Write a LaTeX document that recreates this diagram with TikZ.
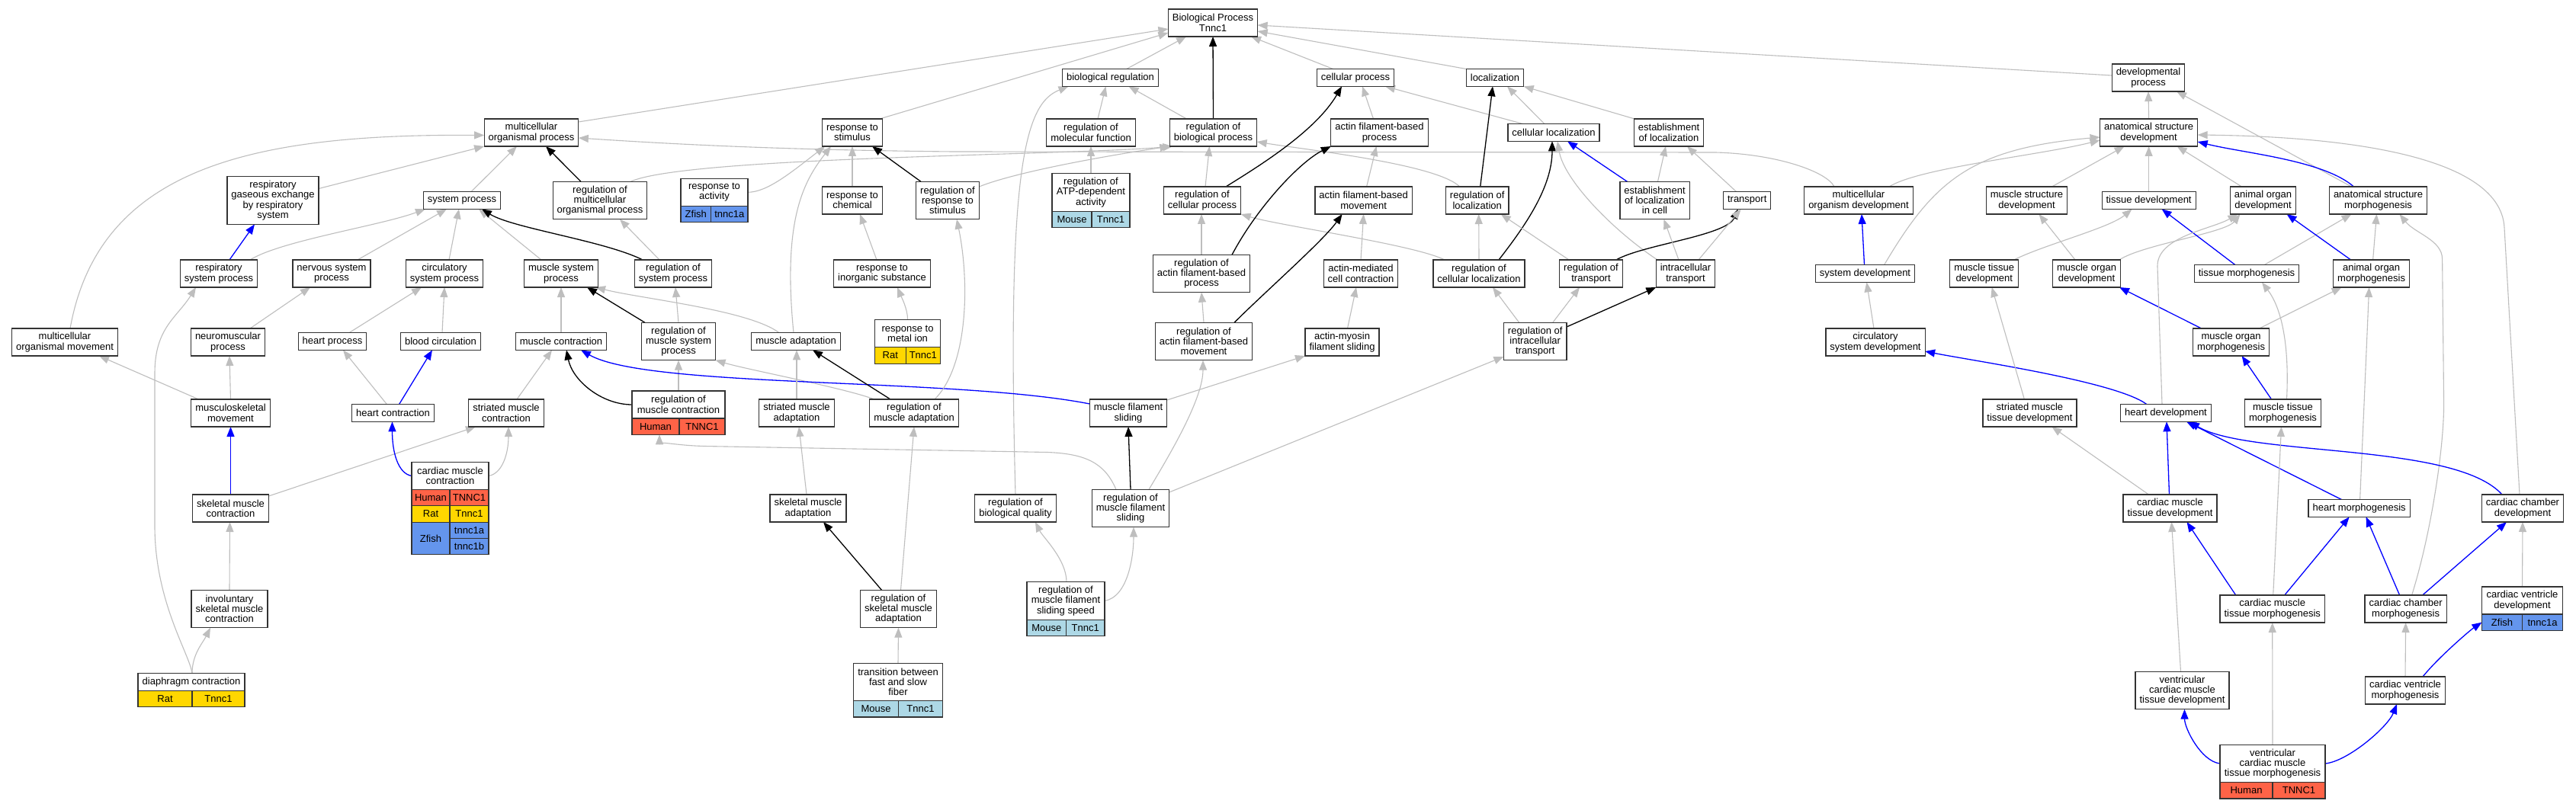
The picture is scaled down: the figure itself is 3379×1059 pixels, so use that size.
\documentclass[tikz,border=0pt]{standalone}
\usepackage{fontspec}
\setmainfont{Liberation Sans}
\usetikzlibrary{arrows.meta}
\pgfdeclarelayer{background}
\pgfsetlayers{background,main}
\definecolor{isagray}{RGB}{190,190,190}
\definecolor{partblue}{RGB}{0,0,255}
\definecolor{human}{RGB}{255,99,71}
\definecolor{rat}{RGB}{255,215,0}
\definecolor{zfish}{RGB}{100,149,237}
\definecolor{mouse}{RGB}{173,216,230}
\begin{document}
\begin{tikzpicture}[x=1pt, y=-1pt,
				term/.style={draw=black!80, fill=white, line width=1.2pt, outer sep=0pt, align=center, inner xsep=5.5pt, inner ysep=2pt, minimum height=22.7pt, font=\fontsize{13}{13.3}\selectfont},
				twoline/.style={minimum height=36pt},
				threeline/.style={minimum height=49.3pt},
				fourline/.style={minimum height=62.6pt},
				gene/.style={draw=black!80, line width=1.2pt, outer sep=0pt, inner sep=0pt, minimum height=21.3pt, font=\fontsize{13}{13.3}\selectfont},
				isa/.style={draw=isagray, line width=1.1pt, -{Triangle[length=13pt,width=10pt]}},
				reg/.style={draw=black, line width=1.3pt, -{Triangle[length=13pt,width=10pt]}},
				partof/.style={draw=partblue, line width=1.3pt, -{Triangle[length=13pt,width=10pt]}},
				]
				\useasboundingbox (0,0) rectangle (3379,1059);
				%Nodes
				\node[term,twoline]   (root)  at (1591,30)      {Biological Process\\Tnnc1};
				\node[term]           (br)    at (1456.5,102)   {biological regulation};
				\node[term]           (cp)    at (1778,102)     {cellular process};
				\node[term]           (loc)   at (1961,102)     {localization};
				\node[term,twoline]   (dp)    at (2818,102)     {developmental\\process};

				\node[term,twoline]   (mop)   at (697,174)      {multicellular\\organismal process};
				\node[term,twoline]   (rts)   at (1118,174)     {response to\\stimulus};
				\node[term,twoline]   (rmf)   at (1431,174)     {regulation of\\molecular function};
				\node[term,twoline]   (rbp)   at (1591.5,174)   {regulation of\\biological process};
				\node[term,twoline]   (afbp)  at (1809.5,174)   {actin filament-based\\process};
				\node[term]           (cl)    at (2038,174)     {cellular localization};
				\node[term,twoline]   (eol)   at (2189,174)     {establishment\\of localization};
				\node[term,twoline]   (asd)   at (2818.6,174)   {anatomical structure\\development};

				\node[term,fourline]  (rge)   at (358,263)      {respiratory\\gaseous exchange\\by respiratory\\system};
				\node[term]           (sp)    at (606,263)      {system process};
				\node[term,threeline] (rmop)  at (787,263)      {regulation of\\multicellular\\organismal process};
				\node[term,twoline,minimum width=88pt] (rta) at (937,252.3) {response to\\activity};
				\node[term,twoline]   (rtc)   at (1118,263)     {response to\\chemical};
				\node[term,threeline] (rrts)  at (1243,263)     {regulation of\\response to\\stimulus};
				\node[term,threeline,minimum width=102pt] (ratp) at (1431,252.5) {regulation of\\ATP-dependent\\activity};
				\node[term,twoline]   (rcp)   at (1577,263)     {regulation of\\cellular process};
				\node[term,twoline]   (afbm)  at (1788.6,263)   {actin filament-based\\movement};
				\node[term,twoline]   (rloc)  at (1937.7,263)   {regulation of\\localization};
				\node[term,threeline] (eolc)  at (2170.5,263)   {establishment\\of localization\\in cell};
				\node[term]           (tr)    at (2291.7,263)   {transport};
				\node[term,twoline]   (mod)   at (2438,263)     {multicellular\\organism development};
				\node[term,twoline]   (msd)   at (2658.5,263)   {muscle structure\\development};
				\node[term]           (td)    at (2818.6,263)   {tissue development};
				\node[term,twoline]   (aod)   at (2968.5,263)   {animal organ\\development};
				\node[term,twoline]   (asm)   at (3119.5,263)   {anatomical structure\\morphogenesis};

				\node[term,twoline]   (rsp)   at (287,359)      {respiratory\\system process};
				\node[term,twoline]   (nsp)   at (435,359)      {nervous system\\process};
				\node[term,twoline]   (csp)   at (583,359)      {circulatory\\system process};
				\node[term,twoline]   (msp)   at (736,359)      {muscle system\\process};
				\node[term,twoline]   (rsysp) at (883,359)      {regulation of\\system process};
				\node[term,twoline]   (rtis)  at (1157,359)     {response to\\inorganic substance};
				\node[term,threeline] (rafbp) at (1576,359)     {regulation of\\actin filament-based\\process};
				\node[term,twoline]   (amcc)  at (1785,359)     {actin-mediated\\cell contraction};
				\node[term,twoline]   (rcl)   at (1940,359)     {regulation of\\cellular localization};
				\node[term,twoline]   (rtr)   at (2087,359)     {regulation of\\transport};
				\node[term,twoline]   (it)    at (2211,359)     {intracellular\\transport};
				\node[term]           (sd)    at (2446.5,359)   {system development};
				\node[term,twoline]   (mtd)   at (2602.7,359)   {muscle tissue\\development};
				\node[term,twoline]   (mord)  at (2737,359)     {muscle organ\\development};
				\node[term]           (tm)    at (2947,359)     {tissue morphogenesis};
				\node[term,twoline]   (aom)   at (3110.6,359)   {animal organ\\morphogenesis};

				\node[term,twoline]   (mom)   at (85,449)       {multicellular\\organismal movement};
				\node[term,twoline]   (nmp)   at (299,449)      {neuromuscular\\process};
				\node[term]           (hp)    at (436,448)      {heart process};
				\node[term]           (bc)    at (578,448)      {blood circulation};
				\node[term]           (mc)    at (736,448)      {muscle contraction};
				\node[term,threeline] (rmsp)  at (890,448)      {regulation of\\muscle system\\process};
				\node[term]           (ma)    at (1044,448)     {muscle adaptation};
				\node[term,twoline,minimum width=86pt] (rtmi) at (1190.6,437.8) {response to\\metal ion};
				\node[term,threeline] (rafbm) at (1579,448)     {regulation of\\actin filament-based\\movement};
				\node[term,twoline]   (amfs)  at (1760.5,449)   {actin-myosin\\filament sliding};
				\node[term,threeline] (rit)   at (2013.7,448)   {regulation of\\intracellular\\transport};
				\node[term,twoline]   (csd)   at (2460,449)     {circulatory\\system development};
				\node[term,twoline]   (morm)  at (2926.6,449)   {muscle organ\\morphogenesis};

				\node[term,twoline,minimum width=122pt] (rmc) at (890,531) {regulation of\\muscle contraction};
				\node[term,twoline]   (msm)   at (302.5,542)    {musculoskeletal\\movement};
				\node[term]           (hc)    at (515.5,542)    {heart contraction};
				\node[term,twoline]   (smc)   at (664,542)      {striated muscle\\contraction};
				\node[term,twoline]   (sma)   at (1045,542)     {striated muscle\\adaptation};
				\node[term,twoline]   (rma)   at (1199,542)     {regulation of\\muscle adaptation};
				\node[term,twoline]   (mfs)   at (1480,542)     {muscle filament\\sliding};
				\node[term,twoline]   (smtd)  at (2662.4,542)   {striated muscle\\tissue development};
				\node[term]           (hd)    at (2841,542)     {heart development};
				\node[term,twoline]   (mtm)   at (2994.5,542)   {muscle tissue\\morphogenesis};

				\node[term,twoline,minimum width=101pt] (cmc) at (590.5,624.5) {cardiac muscle\\contraction};
				\node[term,twoline]   (skmc)  at (302.5,667)    {skeletal muscle\\contraction};
				\node[term,twoline]   (skma)  at (1060,667)     {skeletal muscle\\adaptation};
				\node[term,twoline]   (rbq)   at (1332,667)     {regulation of\\biological quality};
				\node[term,threeline] (rmfs)  at (1483,667)     {regulation of\\muscle filament\\sliding};
				\node[term,twoline]   (cmtd)  at (2846.5,667)   {cardiac muscle\\tissue development};
				\node[term]           (hm)    at (3094.6,667)   {heart morphogenesis};
				\node[term,twoline]   (ccd)   at (3309,667)     {cardiac chamber\\development};

				\node[term,threeline] (iskmc) at (301,799)      {involuntary\\skeletal muscle\\contraction};
				\node[term,threeline] (rskma) at (1178.5,799)   {regulation of\\skeletal muscle\\adaptation};
				\node[term,threeline,minimum width=102pt] (rmfss) at (1398,788.5) {regulation of\\muscle filament\\sliding speed};
				\node[term,twoline]   (cmtm)  at (2980.7,799)   {cardiac muscle\\tissue morphogenesis};
				\node[term,twoline]   (ccm)   at (3155.6,799)   {cardiac chamber\\morphogenesis};
				\node[term,twoline,minimum width=106pt] (cvd) at (3308.5,788) {cardiac ventricle\\development};

				\node[term,minimum width=140pt] (dc) at (251,895) {diaphragm contraction};
				\node[term,threeline,minimum width=117pt] (tbfs) at (1178,895) {transition between\\fast and slow\\fiber};
				\node[term,threeline] (vcmtd) at (2862.5,906)   {ventricular\\cardiac muscle\\tissue development};
				\node[term,twoline]   (cvm)   at (3155,906)     {cardiac ventricle\\morphogenesis};
				\node[term,threeline,minimum width=138pt] (vcmtm) at (2981,1002) {ventricular\\cardiac muscle\\tissue morphogenesis};

				%Gene rows
				\node[gene, fill=zfish, minimum width=39.6pt, anchor=north west] (rtaS)  at (rta.south west)  {Zfish};
				\node[gene, fill=zfish, minimum width=48.4pt, anchor=north east] (rtaG)  at (rta.south east)  {tnnc1a};
				\node[gene, fill=mouse, minimum width=52pt, anchor=north west]   (ratpS) at (ratp.south west) {Mouse};
				\node[gene, fill=mouse, minimum width=50pt, anchor=north east]   (ratpG) at (ratp.south east) {Tnnc1};
				\node[gene, fill=rat, minimum width=40.5pt, anchor=north west]   (rtmiS) at (rtmi.south west) {Rat};
				\node[gene, fill=rat, minimum width=45.5pt, anchor=north east]   (rtmiG) at (rtmi.south east) {Tnnc1};
				\node[gene, fill=human, minimum width=62pt, anchor=north west]   (rmcH)  at (rmc.south west)  {Human};
				\node[gene, fill=human, minimum width=60pt, anchor=north east]   (rmcG)  at (rmc.south east)  {TNNC1};
				\node[gene, fill=human, minimum width=50pt, anchor=north west]   (cmcH)  at (cmc.south west)  {Human};
				\node[gene, fill=human, minimum width=51pt, anchor=north east]   (cmcHg) at (cmc.south east)  {TNNC1};
				\node[gene, fill=rat, minimum width=50pt, anchor=north west]     (cmcR)  at (cmcH.south west) {Rat};
				\node[gene, fill=rat, minimum width=51pt, anchor=north east]     (cmcRg) at (cmcHg.south east) {Tnnc1};
				\node[gene, fill=zfish, minimum width=50pt, minimum height=42.6pt, anchor=north west] (cmcZ) at (cmcR.south west) {Zfish};
				\node[gene, fill=zfish, minimum width=51pt, anchor=north east]   (cmcZa) at (cmcRg.south east) {tnnc1a};
				\node[gene, fill=zfish, minimum width=51pt, anchor=north east]   (cmcZb) at (cmcZa.south east) {tnnc1b};
				\node[gene, fill=mouse, minimum width=51.5pt, anchor=north west] (rmfssS) at (rmfss.south west) {Mouse};
				\node[gene, fill=mouse, minimum width=50.5pt, anchor=north east] (rmfssG) at (rmfss.south east) {Tnnc1};
				\node[gene, fill=zfish, minimum width=53pt, anchor=north west]   (cvdS)  at (cvd.south west)  {Zfish};
				\node[gene, fill=zfish, minimum width=53pt, anchor=north east]   (cvdG)  at (cvd.south east)  {tnnc1a};
				\node[gene, fill=rat, minimum width=71pt, anchor=north west]     (dcS)   at (dc.south west)   {Rat};
				\node[gene, fill=rat, minimum width=69pt, anchor=north east]     (dcG)   at (dc.south east)   {Tnnc1};
				\node[gene, fill=mouse, minimum width=59pt, anchor=north west]   (tbfsS) at (tbfs.south west) {Mouse};
				\node[gene, fill=mouse, minimum width=58pt, anchor=north east]   (tbfsG) at (tbfs.south east) {Tnnc1};
				\node[gene, fill=human, minimum width=69pt, anchor=north west]   (vcmtmS) at (vcmtm.south west) {Human};
				\node[gene, fill=human, minimum width=69pt, anchor=north east]   (vcmtmG) at (vcmtm.south east) {TNNC1};

				\begin{pgfonlayer}{background}
				\fill[white] (0,0) rectangle (3379,1059);
				%Lines
				\draw[isa] ([yshift=14pt]mop.east) -- ([yshift=-8pt]root.west);
				\draw[isa] ([xshift=36pt]rts.north) -- ([yshift=-13pt]root.west);
				\draw[isa] ([xshift=21pt]br.north) -- ([xshift=-35pt]root.south);
				\draw[reg] (rbp.north) -- (root.south);
				\draw[isa] ([xshift=-29pt]cp.north) -- ([xshift=50pt]root.south);
				\draw[isa] ([xshift=-37pt]loc.north) -- ([yshift=-11pt]root.east);
				\draw[isa] ([yshift=3pt]dp.west) -- ([yshift=-3pt]root.east);

				\draw[isa] ([xshift=7pt]mom.north) .. controls +(38,-211) and +(-305,-2) .. ([yshift=-3.5pt]mop.west);
				\draw[isa] ([yshift=15.5pt]rge.east) -- (mop.south west);
				\draw[isa] ([xshift=12pt]sp.north) -- ([xshift=-19pt]mop.south);
				\draw[reg] ([xshift=-25pt]rmop.north) -- ([xshift=19pt]mop.south);
				\draw[isa] ([xshift=-32pt]mod.north) .. controls +(-10,-20) and +(80,2) .. (2250,200) -- (1250,199) .. controls +(-200,-2) and +(150,10) .. ([yshift=-7pt]mop.east);

				\draw[isa] ([xshift=40pt]rmop.north) .. controls +(73,-33) and +(-135,12) .. ([xshift=4pt]rbp.south west);
				\draw[isa] ([yshift=18pt]rrts.east) .. controls +(50,-20) and +(-80,12) .. (rbp.south west);
				\draw[isa] ([xshift=4pt]rcp.north) -- ([xshift=-5pt]rbp.south);
				\draw[isa] ([xshift=-23pt]rloc.north) .. controls +(-30,-30) and +(60,10) .. ([yshift=-12pt]rbp.east);

				\draw[isa] ([xshift=9pt]rmf.north) -- ([xshift=-6pt]br.south);
				\draw[isa] ([xshift=-35pt]rbp.north) -- ([xshift=24pt]br.south);
				\draw[isa] (rbq.north) .. controls +(-12,-440) and +(-55,22) .. ([xshift=-55pt]br.south);
				\draw[isa] (ratp.north) -- (rmf.south);

				\draw[isa] (rta.east) .. controls +(25,0) and +(-45,35) .. ([xshift=-36pt]rts.south);
				\draw[isa] (rtc.north) -- (rts.south);
				\draw[reg] ([xshift=-35pt]rrts.north) -- ([xshift=26pt]rts.south);
				\draw[isa] ([xshift=-3pt]ma.north) .. controls +(-15,-150) and +(-35,45) .. ([xshift=-28pt]rts.south);
				\draw[isa] ([xshift=-7pt]rtis.north) -- ([xshift=10pt]rtc.south);
				\draw[isa] (rtmi.north) .. controls +(0,-15) and +(5,12) .. ([xshift=20pt]rtis.south);

				\draw[isa] (rafbp.north) -- ([xshift=-1pt]rcp.south);
				\draw[reg] ([xshift=31pt]rcp.north) .. controls +(40,-25) and +(-35,60) .. ([xshift=-18pt]cp.south);
				\draw[isa] ([xshift=-45pt]rcl.north) .. controls +(-40,-20) and +(50,15) .. (rcp.south east);
				\draw[isa] ([xshift=-8pt]afbp.north) -- ([xshift=9pt]cp.south);
				\draw[isa] ([xshift=-40pt]cl.north) -- ([xshift=39pt]cp.south);
				\draw[isa] ([xshift=-12pt]cl.north) -- ([xshift=16pt]loc.south);
				\draw[isa] ([xshift=-45pt]eol.north) -- (loc.south east);
				\draw[reg] ([xshift=4pt]rloc.north) -- ([xshift=-3pt]loc.south);

				\draw[reg] ([xshift=40pt]rafbp.north) .. controls +(34,-64) and +(-40,20) .. (afbp.south west);
				\draw[isa] ([xshift=4pt]afbm.north) -- ([xshift=-4pt]afbp.south);
				\draw[isa] (amcc.north) -- (afbm.south);
				\draw[reg] ([xshift=40pt]rafbm.north) .. controls +(40,-40) and +(-25,35) .. ([xshift=-28pt]afbm.south);
				\draw[isa] (rafbm.north) -- (rafbp.south);
				\draw[isa] ([xshift=7pt]amfs.north) -- ([xshift=-6pt]amcc.south);

				\draw[partof] ([xshift=-36pt]eolc.north) -- ([xshift=18pt]cl.south);
				\draw[isa] ([xshift=4pt]eolc.north) -- ([xshift=-4pt]eol.south);
				\draw[isa] ([xshift=-14pt]tr.north) -- ([xshift=24pt]eol.south);
				\draw[reg] ([xshift=26pt]rcl.north) .. controls +(35,-45) and +(0,60) .. ([xshift=-2pt]cl.south);
				\draw[isa] ([xshift=-37pt]it.north) .. controls +(-60,-40) and +(8,50) .. ([xshift=5pt]cl.south);
				\draw[isa] (rcl.north) -- ([xshift=2pt]rloc.south);
				\draw[isa] ([xshift=-29pt]rtr.north) -- ([xshift=31pt]rloc.south);
				\draw[reg] ([xshift=33pt]rtr.north) .. controls +(35,-20) and +(-15,35) .. ([xshift=-12pt]tr.south);
				\draw[isa] ([xshift=17pt]it.north) -- ([xshift=-8pt]tr.south);
				\draw[isa] ([xshift=-9pt]it.north) -- ([xshift=12pt]eolc.south);
				\draw[isa] ([xshift=-21pt]rit.north) -- ([xshift=18pt]rcl.south);
				\draw[isa] ([xshift=23pt]rit.north) -- ([xshift=-15pt]rtr.south);
				\draw[reg] ([yshift=19pt]rit.east) -- (it.south west);

				\draw[partof] ([xshift=14pt]rsp.north) -- ([xshift=-24pt]rge.south);
				\draw[isa] ([xshift=41pt]rsp.north) .. controls +(40,-25) and +(-60,22) .. ([xshift=-48pt]sp.south);
				\draw[isa] ([xshift=34pt]nsp.north) -- ([xshift=-20pt]sp.south);
				\draw[isa] ([xshift=6pt]csp.north) -- ([xshift=-4pt]sp.south);
				\draw[isa] ([xshift=-26pt]msp.north) -- ([xshift=22pt]sp.south);
				\draw[reg] ([xshift=-40pt]rsysp.north) .. controls +(-50,-25) and +(40,25) .. ([xshift=26pt]sp.south);
				\draw[isa] ([xshift=-18pt]rsysp.north) -- ([xshift=26pt]rmop.south);

				\draw[isa] (mc.north) -- (msp.south);
				\draw[reg] ([xshift=-44pt]rmsp.north) -- ([xshift=34pt]msp.south);
				\draw[isa] ([xshift=-22pt]ma.north) .. controls +(-40,-30) and +(60,15) .. ([xshift=45pt]msp.south);
				\draw[isa] (rmsp.north) -- ([xshift=3pt]rsysp.south);
				\draw[isa] (rmc.north) -- (rmsp.south);
				\draw[isa] ([xshift=-52pt]rma.north) .. controls +(-40,-15) and +(40,12) .. (rmsp.south east);

				\draw[isa] ([xshift=14pt]smc.north) -- ([xshift=-12pt]mc.south);
				\draw[reg] (rmc.west) .. controls +(-40,0) and +(8,40) .. ([xshift=7pt]mc.south);
				\draw[partof] ([yshift=12pt]mfs.west) .. controls +(-178.5,-35) and +(88,50.6) .. ([xshift=26pt]mc.south);

				\draw[isa] ([xshift=22pt]hp.north) -- ([xshift=-30pt]csp.south);
				\draw[isa] ([xshift=2pt]bc.north) -- (csp.south);
				\draw[isa] ([xshift=29pt]nmp.north) -- ([xshift=-28pt]nsp.south);
				\draw[isa] ([xshift=-8pt]hc.north) -- ([xshift=14pt]hp.south);
				\draw[partof] ([xshift=8pt]hc.north) -- ([xshift=-11pt]bc.south);
				\draw[isa] ([xshift=-42pt]msm.north) -- ([xshift=45pt]mom.south);
				\draw[isa] (msm.north) -- ([xshift=2pt]nmp.south);
				\draw[partof] (skmc.north) -- (msm.south);
				\draw[isa] ([yshift=16pt]skmc.east) -- ([xshift=-40pt]smc.south);
				\draw[partof] (cmc.west) .. controls +(-18,-3) and +(0,40) .. ([xshift=-1pt]hc.south);
				\draw[isa] (cmc.east) .. controls +(18,-3) and +(0,35) .. ([xshift=3pt]smc.south);
				\draw[isa] (iskmc.north) -- ([xshift=-1pt]skmc.south);
				\draw[isa] ([xshift=1pt]dc.north) .. controls +(0,-25) and +(-10,20) .. ([xshift=-25pt]iskmc.south);
				\draw[isa] ([xshift=1pt]dc.north) .. controls +(-3,-25) and +(0,100) .. (203,690) -- (203,490) .. controls +(0,-60) and +(-25,40) .. ([xshift=-30pt]rsp.south);

				\draw[reg] (rmfs.north) -- (mfs.south);
				\draw[isa] ([xshift=-19pt]rmfs.north) .. controls +(-15,-35) and +(50,2) .. (1374,593.5) -- (924,585.5) .. controls +(-40,-1) and +(0,8) .. ([xshift=5pt]rmcH.south);
				\draw[isa] ([xshift=24pt]rmfs.north) .. controls +(30,-50) and +(0,50) .. ([xshift=-1pt]rafbm.south);
				\draw[isa] ([yshift=21pt]rmfs.east) -- ([yshift=-20pt]rit.west);
				\draw[isa] ([yshift=17pt]mfs.east) -- (amfs.south west);
				\draw[isa] ([xshift=1pt]rmfss.north) .. controls +(0,-30) and +(10,20) .. ([xshift=26pt]rbq.south);
				\draw[isa] (rmfss.east) .. controls +(30,-5) and +(0,40) .. ([xshift=4pt]rmfs.south);
				\draw[reg] ([xshift=-22pt]rskma.north) -- ([xshift=20pt]skma.south);
				\draw[isa] ([xshift=3pt]rskma.north) -- (rma.south);
				\draw[isa] (tbfs.north) -- (rskma.south);
				\draw[isa] ([xshift=-2pt]skma.north) -- ([xshift=3pt]sma.south);
				\draw[isa] (sma.north) -- ([xshift=1pt]ma.south);
				\draw[reg] ([xshift=-31pt]rma.north) -- ([xshift=22pt]ma.south);
				\draw[isa] ([xshift=27pt]rma.north) .. controls +(44,-44) and +(17,82.5) .. ([xshift=12pt]rrts.south);

				\draw[isa] (asd.north) -- (dp.south);
				\draw[isa] ([xshift=-35pt]asm.north) -- ([xshift=37pt]dp.south);
				\draw[isa] ([xshift=40pt]mod.north) .. controls +(40,-25) and +(-80,20) .. ([yshift=-10pt]asd.west);
				\draw[isa] ([xshift=25pt]sd.north) .. controls +(65,-110) and +(-170,15) .. ([yshift=-6pt]asd.west);
				\draw[isa] ([xshift=33pt]msd.north) -- ([xshift=-32pt]asd.south);
				\draw[isa] (td.north) -- (asd.south);
				\draw[isa] ([xshift=-28pt]aod.north) -- ([xshift=37pt]asd.south);
				\draw[partof] ([xshift=-32pt]asm.north) .. controls +(-40,-35) and +(60,15) .. ([yshift=-12pt]asd.east);
				\draw[isa] ([xshift=-4pt]ccd.north) -- ++(-20,-350) .. controls +(-5,-100) and +(170,2) .. ([yshift=-3pt]asd.east);

				\draw[partof] ([xshift=-1pt]sd.north) -- ([xshift=4pt]mod.south);
				\draw[isa] ([xshift=-2pt]csd.north) -- ([xshift=2pt]sd.south);
				\draw[isa] ([xshift=39pt]mtd.north) .. controls +(40,-20) and +(-30,25) .. ([xshift=-22pt]td.south);
				\draw[isa] ([xshift=-15pt]mord.north) -- ([xshift=16pt]msd.south);
				\draw[isa] ([xshift=43pt]mord.north) .. controls +(30,-20) and +(-20,25) .. ([xshift=-30pt]aod.south);
				\draw[partof] ([xshift=-15pt]tm.north) -- ([xshift=17pt]td.south);
				\draw[isa] ([xshift=23pt]tm.north) -- ([xshift=-35pt]asm.south);
				\draw[partof] ([xshift=-27pt]aom.north) -- ([xshift=31pt]aod.south);
				\draw[isa] ([xshift=2pt]aom.north) -- ([xshift=-2pt]asm.south);
				\draw[partof] ([xshift=-39pt]morm.north) -- ([xshift=43pt]mord.south);
				\draw[isa] ([xshift=37pt]morm.north) -- ([xshift=-39pt]aom.south);
				\draw[partof] ([xshift=-15pt]mtm.north) -- ([xshift=14pt]morm.south);
				\draw[isa] ([xshift=5pt]mtm.north) .. controls +(5,-100) and +(15,20) .. ([xshift=20pt]tm.south);
				\draw[partof] ([xshift=-25pt]hd.north) .. controls +(-40,-30) and +(60,12) .. ([yshift=-12pt]csd.east);
				\draw[isa] ([xshift=-7pt]smtd.north) -- ([xshift=10pt]mtd.south);
				\draw[isa] ([xshift=-5pt]hd.north) -- ++(-6,-180) .. controls +(-2,-40) and +(-35,20) .. ([xshift=-33pt]aod.south);
				\draw[isa] ([xshift=1pt]hm.north) -- ([xshift=-3pt]aom.south);
				\draw[isa] ([xshift=8pt]ccm.north) .. controls +(25,-80) and +(0,60) .. (3205.6,530) -- (3203.6,340) .. controls +(0,-25) and +(20,25) .. ([xshift=28pt]asm.south);

				\draw[isa] ([xshift=-28pt]cmtd.north) -- ([xshift=29pt]smtd.south);
				\draw[partof] ([xshift=-1pt]cmtd.north) -- ([xshift=1pt]hd.south);
				\draw[partof] ([xshift=-23pt]hm.north) -- ([xshift=27pt]hd.south);
				\draw[partof] ([xshift=-27pt]ccd.north) .. controls +(-62,-69) and +(78,46.6) .. ([xshift=31pt]hd.south);
				\draw[partof] ([xshift=-48pt]cmtm.north) -- ([xshift=22pt]cmtd.south);
				\draw[partof] ([xshift=16pt]cmtm.north) -- ([xshift=-13pt]hm.south);
				\draw[isa] ([xshift=1pt]cmtm.north) -- ([xshift=-2pt]mtm.south);
				\draw[partof] ([xshift=-8pt]ccm.north) -- ([xshift=9pt]hm.south);
				\draw[partof] ([xshift=22pt]ccm.north) -- ([xshift=-21pt]ccd.south);
				\draw[isa] (cvd.north) -- (ccd.south);
				\draw[isa] ([xshift=-2pt]vcmtd.north) -- ([xshift=2pt]cmtd.south);
				\draw[isa] (cvm.north) -- (ccm.south);
				\draw[partof] ([xshift=23pt]cvm.north) .. controls +(20,-25) and +(-15,10) .. (cvdS.west);
				\draw[partof] (vcmtm.west) .. controls +(-25,-3) and +(0,25) .. ([xshift=3pt]vcmtd.south);
				\draw[partof] (vcmtm.east) .. controls +(30,-3) and +(-12,30) .. ([xshift=-11pt]cvm.south);
				\draw[isa] (vcmtm.north) -- (cmtm.south);
				\end{pgfonlayer}
			\end{tikzpicture}
\end{document}
